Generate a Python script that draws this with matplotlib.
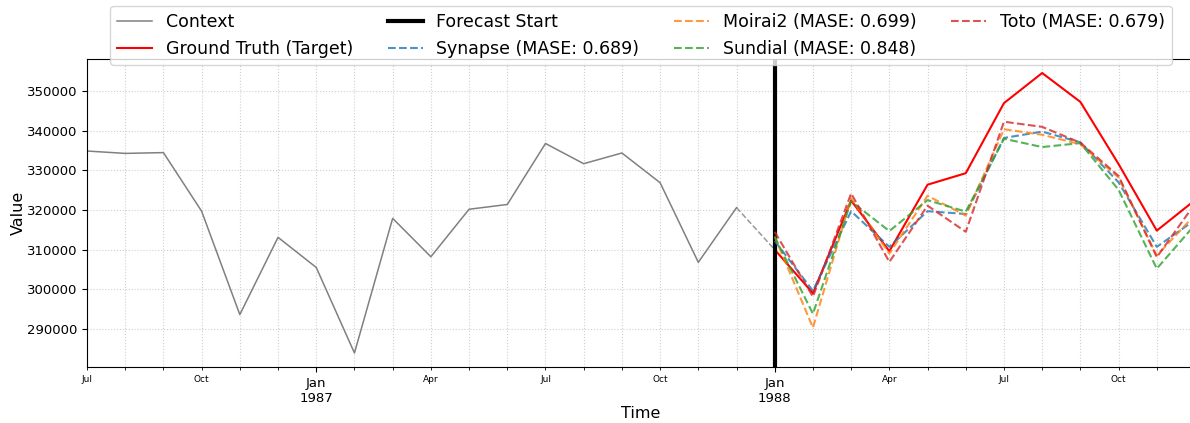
import matplotlib
matplotlib.use("Agg")
import matplotlib.pyplot as plt
from matplotlib.ticker import FixedLocator, FixedFormatter

# ---- data ----
months = ["1986-07", "1986-08", "1986-09", "1986-10", "1986-11", "1986-12",
          "1987-01", "1987-02", "1987-03", "1987-04", "1987-05", "1987-06",
          "1987-07", "1987-08", "1987-09", "1987-10", "1987-11", "1987-12",
          "1988-01", "1988-02", "1988-03", "1988-04", "1988-05", "1988-06",
          "1988-07", "1988-08", "1988-09", "1988-10", "1988-11", "1988-12"]

context = [334900, 334300, 334500, 319700, 293600, 313100,
           305500, 283900, 317900, 308200, 320200, 321400,
           336800, 331700, 334400, 326900, 306800, 320600]

ground_truth = [310000, 299000, 322400, 309600, 326400, 329300,
                347000, 354600, 347300, 331600, 314800, 322500]

synapse = [312200, 299600, 319700, 310700, 319700, 319000,
           338200, 339800, 337100, 327000, 310700, 317500]
moirai2 = [313300, 290300, 323000, 309000, 323600, 318600,
           340400, 339000, 336600, 328200, 308500, 318800]
sundial = [313200, 293800, 322200, 314700, 322500, 319600,
           338000, 335900, 336900, 325100, 305200, 316300]
toto = [314500, 298100, 324200, 306900, 321100, 314500,
        342300, 341000, 337000, 328600, 308100, 321600]

mase = {"Synapse": 0.689, "Moirai2": 0.699, "Sundial": 0.848, "Toto": 0.679}

major_tick_months = ["1987-01", "1988-01"]
major_tick_labels = ["Jan\n1987", "Jan\n1988"]
minor_label_months = ["1986-07", "1986-10", "1987-04", "1987-07", "1987-10",
                      "1988-04", "1988-07", "1988-10"]
minor_label_text = ["Jul", "Oct", "Apr", "Jul", "Oct", "Apr", "Jul", "Oct"]

# ---- plotting ----
xpos = {m: i for i, m in enumerate(months)}
n_ctx = len(context)
x_ctx = list(range(n_ctx))
x_fc = list(range(n_ctx, len(months)))

fig = plt.figure(figsize=(11.9, 4.23), dpi=100)
ax = fig.add_axes([87 / 1190, 56 / 423, (1195 - 87) / 1190, 308 / 423])

ax.plot(x_ctx, context, color="gray", lw=1.1, label="Context")
ax.plot([x_ctx[-1], x_fc[0]], [context[-1], ground_truth[0]],
        color="gray", lw=1.1, ls="--", alpha=0.8)
ax.plot(x_fc, ground_truth, color="red", lw=1.5, label="Ground Truth (Target)")
ax.axvline(x_fc[0], color="black", lw=3, label="Forecast Start")

series = [("Synapse", synapse, "#1f77b4"),
          ("Moirai2", moirai2, "#ff7f0e"),
          ("Sundial", sundial, "#2ca02c"),
          ("Toto", toto, "#d62728")]
for name, vals, col in series:
    ax.plot(x_fc, vals, color=col, lw=1.5, ls="--", alpha=0.8,
            label=f"{name} (MASE: {mase[name]:.3f})")

ax.set_xlim(0, len(months) - 1)
ax.margins(y=0.05)

# ticks
ax.xaxis.set_major_locator(FixedLocator([xpos[m] for m in major_tick_months]))
ax.xaxis.set_major_formatter(FixedFormatter(major_tick_labels))
minor_pos = [i for i in range(len(months)) if months[i] not in major_tick_months]
ax.xaxis.set_minor_locator(FixedLocator(minor_pos))
lab_map = {xpos[m]: t for m, t in zip(minor_label_months, minor_label_text)}
ax.xaxis.set_minor_formatter(FixedFormatter([lab_map.get(p, "") for p in minor_pos]))
ax.tick_params(axis="x", which="major", labelsize=9.5, length=3.5)
ax.tick_params(axis="x", which="minor", labelsize=6.5, length=2)
ax.tick_params(axis="y", labelsize=9.5)

ax.grid(True, which="both", ls=":", lw=0.8, color="#b0b0b0", alpha=0.6)
ax.set_xlabel("Time", fontsize=11.5, labelpad=1)
ax.set_ylabel("Value", fontsize=11.5, labelpad=1)

ax.legend(loc="upper center", bbox_to_anchor=(641 / 1190, 1 - 6 / 423),
          bbox_transform=fig.transFigure, ncol=4, fontsize=12.5,
          frameon=True, borderaxespad=0)

fig.savefig("out.png", dpi=100)
